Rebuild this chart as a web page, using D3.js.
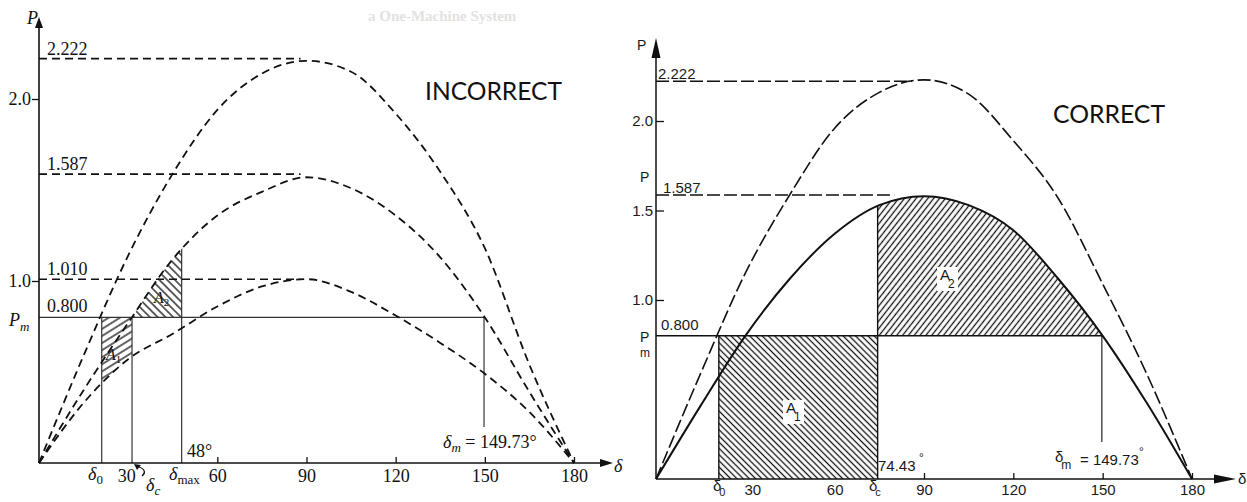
<!DOCTYPE html>
<html>
<head>
<meta charset="utf-8">
<script src="https://cdn.jsdelivr.net/npm/d3@7"></script>
<style>
  body { margin: 0; background: #fff; }
  svg { display: block; }
</style>
</head>
<body>
<svg id="chart" width="1247" height="502"></svg>
<script>
// Equal-area criterion for a one-machine system: power-angle curves P(δ)

// Rotor angles (degrees) at which each curve is sampled
const angles = [0, 15, 30, 45, 60, 75, 90, 105, 120, 135, 150, 165, 180];

// Left figure: prefault, postfault and during-fault curves (per unit)
const leftPrefault  = [0, 0.59, 1.14, 1.59, 1.94, 2.14, 2.21, 2.15, 1.92, 1.60, 1.18, 0.54, 0];
const leftPostfault = [0, 0.40, 0.77, 1.12, 1.36, 1.49, 1.57, 1.51, 1.36, 1.13, 0.80, 0.39, 0];
const leftFault     = [0, 0.33, 0.57, 0.71, 0.86, 0.97, 1.01, 0.94, 0.81, 0.66, 0.49, 0.28, 0];
const leftLevels    = [2.222, 1.587, 1.010];
const leftLevelText = ["2.222", "1.587", "1.010"];
const leftMarks     = { d0: 21.1, dc: 31.3, dmax: 48, dm: 149.73 };
const leftXTicks    = [30, 60, 90, 120, 150, 180];
const leftYTicks    = [1.0, 2.0];

// Right figure: prefault (dashed) and postfault (solid) curves (per unit)
const rightPrefault  = [0, 0.59, 1.15, 1.59, 1.96, 2.16, 2.23, 2.15, 1.89, 1.57, 1.09, 0.58, 0];
const rightPostfault = [0, 0.41, 0.80, 1.12, 1.37, 1.53, 1.58, 1.53, 1.39, 1.12, 0.80, 0.42, 0];
const rightLevels    = [2.222, 1.587];
const rightLevelText = ["2.222", "1.587"];
const rightMarks     = { d0: 21.1, dc: 74.43, dm: 149.73 };
const rightXTicks    = [30, 60, 90, 120, 150, 180];
const rightYTicks    = [1.0, 1.5, 2.0];

// Mechanical input power
const Pm = 0.800;

const SERIF = '"Liberation Serif", "Times New Roman", serif';
const SANS = '"Liberation Sans", Arial, sans-serif';
const INK = "#111";

const svg = d3.select("#chart");
const defs = svg.append("defs");

function addHatch(id, angle, gap, width) {
  const p = defs.append("pattern")
    .attr("id", id)
    .attr("patternUnits", "userSpaceOnUse")
    .attr("width", gap).attr("height", gap)
    .attr("patternTransform", `rotate(${angle})`);
  p.append("line")
    .attr("x1", 0).attr("x2", gap)
    .attr("y1", gap / 2).attr("y2", gap / 2)
    .attr("stroke", INK).attr("stroke-width", width);
}
addHatch("hatchL1", -32, 6, 1.3);
addHatch("hatchL2", 45, 5.5, 1.3);
addHatch("hatchR1", 45, 4.4, 1.3);
addHatch("hatchR2", -52, 4.6, 1.3);

function addClipRect(id, x0, x1) {
  defs.append("clipPath").attr("id", id)
    .append("rect").attr("x", x0).attr("y", 0)
    .attr("width", x1 - x0).attr("height", 502);
}

function arrow(g, x, y, dir, len, half) {
  // filled triangular arrowhead with its tip at (x, y)
  let pts;
  if (dir === "up") pts = [[x, y], [x - half, y + len], [x + half, y + len]];
  else pts = [[x, y], [x - len, y - half], [x - len, y + half]];
  g.append("path").attr("d", "M" + pts.join("L") + "Z").attr("fill", INK);
}

// faint heading of the book page behind the left figure
svg.append("text")
  .attr("x", 368).attr("y", 21)
  .attr("font-family", SERIF).attr("font-weight", "bold").attr("font-size", 15)
  .attr("fill", "#e2e2e2")
  .text("a One-Machine System");

/* ---------------- left figure ---------------- */
{
  const x = d3.scaleLinear().domain([0, 180]).range([39, 574]);
  const y = d3.scaleLinear().domain([0, 1]).range([463, 281]);
  const g = svg.append("g").attr("font-family", SERIF).attr("fill", INK);

  const line = d3.line().x((d, i) => x(angles[i])).y(d => y(d)).curve(d3.curveMonotoneX);
  const band = d3.area().x((d, i) => x(angles[i])).y0(y(Pm)).y1(d => y(d)).curve(d3.curveMonotoneX);
  const under = d3.area().x((d, i) => x(angles[i])).y0(y(0)).y1(d => y(d)).curve(d3.curveMonotoneX);

  addClipRect("clipL1", x(leftMarks.d0), x(leftMarks.dc));
  addClipRect("clipL2", x(leftMarks.dc), x(leftMarks.dmax));
  defs.append("clipPath").attr("id", "underL").append("path").attr("d", under(leftPostfault));

  // accelerating area A1 and decelerating area A2
  g.append("path").attr("d", band(leftFault)).attr("fill", "url(#hatchL1)").attr("clip-path", "url(#clipL1)");
  g.append("path").attr("d", band(leftPostfault)).attr("fill", "url(#hatchL2)").attr("clip-path", "url(#clipL2)");

  // mechanical power line and angle markers
  const seg = (x1, y1, x2, y2) => g.append("line")
    .attr("x1", x1).attr("y1", y1).attr("x2", x2).attr("y2", y2)
    .attr("stroke", "#333").attr("stroke-width", 1.2);
  seg(x(0), y(Pm), x(leftMarks.dm), y(Pm));
  seg(x(leftMarks.d0), y(0), x(leftMarks.d0), y(Pm));
  seg(x(leftMarks.dc), y(0), x(leftMarks.dc), y(Pm));
  seg(x(leftMarks.dmax), y(0), x(leftMarks.dmax), y(2.3)).attr("clip-path", "url(#underL)");
  seg(x(leftMarks.dm), y(Pm), x(leftMarks.dm), y(0) - 36);

  // dashed maximum-power levels
  leftLevels.forEach(v => {
    g.append("line")
      .attr("x1", x(0)).attr("x2", x(88)).attr("y1", y(v)).attr("y2", y(v))
      .attr("stroke", INK).attr("stroke-width", 1.6).attr("stroke-dasharray", "8,5");
  });

  // dashed power-angle curves
  [leftPrefault, leftPostfault, leftFault].forEach(vals => {
    g.append("path").attr("d", line(vals))
      .attr("fill", "none").attr("stroke", INK)
      .attr("stroke-width", 1.8).attr("stroke-dasharray", "8,5");
  });

  // axes
  const xAxis = d3.axisBottom(x).tickValues(leftXTicks)
    .tickSizeInner(-6).tickSizeOuter(0).tickPadding(6)
    .tickFormat(d3.format("d"));
  const xa = g.append("g").attr("transform", `translate(0,${y(0)})`).call(xAxis);
  xa.select(".domain").remove();
  xa.selectAll(".tick line").attr("stroke", INK).attr("stroke-width", 1.3)
    .filter(d => d === 30).remove();
  xa.selectAll(".tick text").attr("font-family", SERIF).attr("font-size", 18).attr("fill", INK);
  xa.selectAll(".tick").filter(d => d === 30).select("text").attr("dx", -2);

  const yAxis = d3.axisLeft(y).tickValues(leftYTicks)
    .tickSizeInner(7).tickSizeOuter(0).tickPadding(1)
    .tickFormat(d3.format(".1f"));
  const ya = g.append("g").attr("transform", `translate(${x(0)},0)`).call(yAxis);
  ya.select(".domain").remove();
  ya.selectAll(".tick line").attr("stroke", INK).attr("stroke-width", 1.3);
  ya.selectAll(".tick text").attr("font-family", SERIF).attr("font-size", 18).attr("fill", INK);

  g.append("line").attr("x1", x(0)).attr("x2", 604).attr("y1", y(0)).attr("y2", y(0))
    .attr("stroke", INK).attr("stroke-width", 1.6);
  g.append("line").attr("x1", x(0)).attr("x2", x(0)).attr("y1", y(0)).attr("y2", 26)
    .attr("stroke", INK).attr("stroke-width", 1.6);
  arrow(g, x(0), 17, "up", 11, 4);
  arrow(g, 613, y(0), "right", 13, 4);

  // level labels
  leftLevels.forEach((v, i) => {
    g.append("text").attr("x", 47).attr("y", y(v) - 4)
      .attr("font-size", 18).text(leftLevelText[i]);
  });
  g.append("text").attr("x", 47).attr("y", y(Pm) - 5).attr("font-size", 18).text("0.800");

  // axis symbols
  const sym = (tx, ty, main, sub, size = 18, subSize = 13) => {
    const t = g.append("text").attr("x", tx).attr("y", ty).attr("font-size", size);
    t.append("tspan").attr("font-style", "italic").text(main);
    if (sub) t.append("tspan").attr("font-size", subSize).attr("dy", 4).text(sub);
    return t;
  };
  sym(27, 24, "P");
  const pm = sym(9, 326, "P", null);
  pm.append("tspan").attr("font-style", "italic").attr("font-size", 13).attr("dy", 5).text("m");
  sym(614, 472, "δ");
  sym(88, 480, "δ", "0");
  const dmx = g.append("text").attr("x", 169).attr("y", 480).attr("font-size", 18);
  dmx.append("tspan").attr("font-style", "italic").text("δ");
  dmx.append("tspan").attr("font-size", 13).attr("dy", 4).text("max");
  const dc = g.append("text").attr("x", 146).attr("y", 491).attr("font-size", 18);
  dc.append("tspan").attr("font-style", "italic").text("δ");
  dc.append("tspan").attr("font-style", "italic").attr("font-size", 13).attr("dy", 4).text("c");
  g.append("path").attr("d", "M142,476 C146,473 145,469 139,467")
    .attr("fill", "none").attr("stroke", INK).attr("stroke-width", 1.3);
  g.append("path").attr("d", "M134,464 L141,465 L137,470 Z").attr("fill", INK);

  g.append("text").attr("x", 187).attr("y", 457).attr("font-size", 18).text("48°");

  const dm = g.append("text").attr("x", 443).attr("y", 448).attr("font-size", 18);
  dm.append("tspan").attr("font-style", "italic").text("δ");
  dm.append("tspan").attr("font-style", "italic").attr("font-size", 13).attr("dy", 4).text("m");
  dm.append("tspan").attr("dy", -4).text(" = 149.73°");

  // area labels
  const a1 = g.append("text").attr("x", 106).attr("y", 360).attr("font-size", 16);
  a1.append("tspan").attr("font-style", "italic").text("A");
  a1.append("tspan").attr("font-size", 11).attr("dy", 3).text("1");
  const a2 = g.append("text").attr("x", 154).attr("y", 303).attr("font-size", 16);
  a2.append("tspan").attr("font-style", "italic").text("A");
  a2.append("tspan").attr("font-size", 11).attr("dy", 3).text("2");

  svg.append("text").attr("x", 425).attr("y", 100)
    .attr("font-family", "Lato, 'Open Sans', sans-serif").attr("font-size", 25)
    .attr("textLength", 137).attr("lengthAdjust", "spacingAndGlyphs")
    .attr("fill", INK).text("INCORRECT");
}

/* ---------------- right figure ---------------- */
{
  const x = d3.scaleLinear().domain([0, 180]).range([656, 1192]);
  const y = d3.scaleLinear().domain([0, 1]).range([479, 300]);
  const g = svg.append("g").attr("font-family", SANS).attr("fill", "#1a1a1a");

  const line = d3.line().x((d, i) => x(angles[i])).y(d => y(d)).curve(d3.curveMonotoneX);
  const band = d3.area().x((d, i) => x(angles[i])).y0(y(Pm)).y1(d => y(d)).curve(d3.curveMonotoneX);
  const under = d3.area().x((d, i) => x(angles[i])).y0(y(0)).y1(d => y(d)).curve(d3.curveMonotoneX);

  addClipRect("clipR2", x(rightMarks.dc), x(rightMarks.dm));
  defs.append("clipPath").attr("id", "underR").append("path").attr("d", under(rightPostfault));

  // A1: rectangle under Pm while the fault is on; A2: between postfault curve and Pm
  g.append("rect")
    .attr("x", x(rightMarks.d0)).attr("y", y(Pm))
    .attr("width", x(rightMarks.dc) - x(rightMarks.d0)).attr("height", y(0) - y(Pm))
    .attr("fill", "url(#hatchR1)");
  g.append("path").attr("d", band(rightPostfault)).attr("fill", "url(#hatchR2)").attr("clip-path", "url(#clipR2)");

  const seg = (x1, y1, x2, y2, w = 1.3) => g.append("line")
    .attr("x1", x1).attr("y1", y1).attr("x2", x2).attr("y2", y2)
    .attr("stroke", INK).attr("stroke-width", w);
  seg(x(0), y(Pm), x(rightMarks.dm), y(Pm), 1.5);
  seg(x(rightMarks.d0), y(0), x(rightMarks.d0), y(Pm), 1.4);
  seg(x(rightMarks.dc), y(0), x(rightMarks.dc), y(2.3), 1.4).attr("clip-path", "url(#underR)");
  seg(x(rightMarks.dm), y(Pm), x(rightMarks.dm), y(0) - 37, 1.1);

  // dashed maximum-power levels
  rightLevels.forEach((v, i) => {
    g.append("line")
      .attr("x1", x(0)).attr("x2", x(i === 0 ? 86 : 80)).attr("y1", y(v)).attr("y2", y(v))
      .attr("stroke", INK).attr("stroke-width", 1.5).attr("stroke-dasharray", "13,4");
  });

  // curves
  g.append("path").attr("d", line(rightPrefault))
    .attr("fill", "none").attr("stroke", INK).attr("stroke-width", 1.6)
    .attr("stroke-dasharray", "13,4");
  g.append("path").attr("d", line(rightPostfault))
    .attr("fill", "none").attr("stroke", INK).attr("stroke-width", 2);

  // axes
  const xAxis = d3.axisBottom(x).tickValues(rightXTicks)
    .tickSizeInner(-6).tickSizeOuter(0).tickPadding(5)
    .tickFormat(d3.format("d"));
  const xa = g.append("g").attr("transform", `translate(0,${y(0)})`).call(xAxis);
  xa.select(".domain").remove();
  xa.selectAll(".tick line").attr("stroke", INK).attr("stroke-width", 1.3)
    .filter(d => d === 30 || d === 60).remove();
  xa.selectAll(".tick text").attr("font-family", SANS).attr("font-size", 15).attr("fill", "#1a1a1a");
  xa.selectAll(".tick").filter(d => d === 30).select("text").attr("dx", 7);

  const yAxis = d3.axisLeft(y).tickValues(rightYTicks)
    .tickSizeInner(-8).tickSizeOuter(0).tickPadding(3)
    .tickFormat(d3.format(".1f"));
  const ya = g.append("g").attr("transform", `translate(${x(0)},0)`).call(yAxis);
  ya.select(".domain").remove();
  ya.selectAll(".tick line").attr("stroke", INK).attr("stroke-width", 1.3);
  ya.selectAll(".tick text").attr("font-family", SANS).attr("font-size", 15).attr("fill", "#1a1a1a");

  g.append("line").attr("x1", x(0)).attr("x2", 1216).attr("y1", y(0)).attr("y2", y(0))
    .attr("stroke", INK).attr("stroke-width", 1.5);
  g.append("line").attr("x1", x(0)).attr("x2", x(0)).attr("y1", y(0)).attr("y2", 54)
    .attr("stroke", INK).attr("stroke-width", 1.5);
  arrow(g, x(0), 38, "up", 20, 4.5);
  arrow(g, 1236, y(0), "right", 22, 4.5);

  // level labels
  rightLevels.forEach((v, i) => {
    g.append("text").attr("x", i === 0 ? 658 : 663).attr("y", y(v) - 2)
      .attr("font-size", 15).text(rightLevelText[i]);
  });
  g.append("text").attr("x", 661).attr("y", y(Pm) - 6).attr("font-size", 15).text("0.800");

  const sub = (tx, ty, main, s, size = 15, subSize = 12, dy = 7) => {
    const t = g.append("text").attr("x", tx).attr("y", ty).attr("font-size", size);
    t.append("tspan").text(main);
    t.append("tspan").attr("font-size", subSize).attr("dy", dy).attr("dx", -2).text(s);
    return t;
  };
  g.append("text").attr("x", 637).attr("y", 50).attr("font-size", 14).text("P");
  g.append("text").attr("x", 640).attr("y", 182).attr("font-size", 14).text("P");
  // Pm written with the m set below the P
  g.append("text").attr("x", 640).attr("y", 342).attr("font-size", 14).text("P");
  g.append("text").attr("x", 640).attr("y", 357).attr("font-size", 12).text("m");
  sub(713, 491, "δ", "0", 15, 11, 5);
  sub(869, 491, "δ", "c", 15, 11, 5);
  g.append("text").attr("x", 1238).attr("y", 484).attr("font-size", 15).text("δ");

  g.append("text").attr("x", 878).attr("y", 471).attr("font-size", 15).text("74.43");
  g.append("text").attr("x", 919).attr("y", 462).attr("font-size", 12).text("°");

  sub(1055, 462, "δ", "m", 15, 12, 7);
  g.append("text").attr("x", 1080).attr("y", 465).attr("font-size", 15).text("= 149.73");
  g.append("text").attr("x", 1139).attr("y", 456).attr("font-size", 12).text("°");

  // area labels on a cleared patch of the hatching
  const label = (tx, ty, s) => {
    g.append("rect").attr("x", tx - 3).attr("y", ty - 13).attr("width", 21).attr("height", 24).attr("fill", "#fff");
    sub(tx, ty, "A", s, 15, 12, 8);
  };
  label(786, 413, "1");
  label(940, 280, "2");

  svg.append("text").attr("x", 1053).attr("y", 123)
    .attr("font-family", "Lato, 'Open Sans', sans-serif").attr("font-size", 25)
    .attr("textLength", 112).attr("lengthAdjust", "spacingAndGlyphs")
    .attr("fill", INK).text("CORRECT");
}
</script>
</body>
</html>
